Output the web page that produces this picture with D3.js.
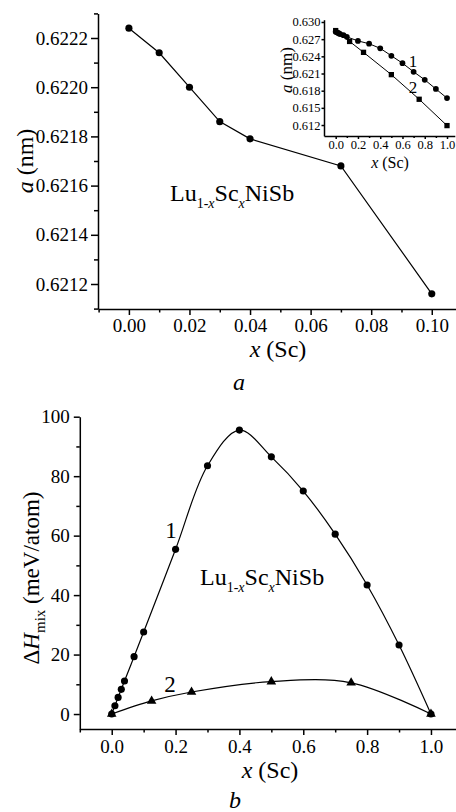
<!DOCTYPE html>
<html>
<head>
<meta charset="utf-8">
<script src="https://cdn.jsdelivr.net/npm/d3@7"></script>
<style>
  body { margin: 0; background: #fff; }
  .axis path, .axis line { stroke: #000; stroke-width: 1.5px; }
</style>
</head>
<body>
<svg width="456" height="812"></svg>
<script>
// panel a: lattice parameter of Lu1-xScxNiSb, small x
var xA = [0, 0.01, 0.02, 0.03, 0.04, 0.07, 0.10];
var aA = [0.62224, 0.62214, 0.62200, 0.62186, 0.62179, 0.62168, 0.62116];

// inset: full range, 1 = circles, 2 = squares
var xIn1 = [0, 0.01, 0.02, 0.03, 0.04, 0.07, 0.1, 0.2, 0.3, 0.4, 0.5, 0.6, 0.7, 0.8, 0.9, 1.0];
var aIn1 = [0.6283, 0.6282, 0.6281, 0.6280, 0.6279, 0.6277, 0.6274, 0.6267, 0.6262, 0.6254, 0.6241, 0.6228, 0.6213, 0.6199, 0.6183, 0.6167];
var xIn2 = [0, 0.125, 0.25, 0.5, 0.75, 1.0];
var aIn2 = [0.6285, 0.6266, 0.6247, 0.6208, 0.6165, 0.6119];

// panel b: mixing enthalpy
var xH1 = [0, 0.01, 0.02, 0.03, 0.04, 0.07, 0.1, 0.2, 0.3, 0.4, 0.5, 0.6, 0.7, 0.8, 0.9, 1.0];
var hH1 = [0, 2.8, 5.6, 8.3, 11.1, 19.3, 27.6, 55.4, 83.5, 95.5, 86.5, 75.0, 60.5, 43.4, 23.2, 0];
var xH2 = [0, 0.125, 0.25, 0.5, 0.75, 1.0];
var hH2 = [0, 4.4, 7.4, 10.9, 10.5, 0];

// ticks
var aTicks = [0.6212, 0.6214, 0.6216, 0.6218, 0.6220, 0.6222];
var aMinor = [0.6211, 0.6213, 0.6215, 0.6217, 0.6219, 0.6221, 0.6223];
var xATicks = [0, 0.02, 0.04, 0.06, 0.08, 0.10];
var xAMinor = [-0.01, 0.01, 0.03, 0.05, 0.07, 0.09];
var inYTicks = [0.612, 0.615, 0.618, 0.621, 0.624, 0.627, 0.630];
var inXTicks = [0, 0.2, 0.4, 0.6, 0.8, 1.0];
var inXMinor = [0.1, 0.3, 0.5, 0.7, 0.9];
var hTicks = [0, 20, 40, 60, 80, 100];
var hMinor = [10, 30, 50, 70, 90];
var xBTicks = [0, 0.2, 0.4, 0.6, 0.8, 1.0];
var xBMinor = [-0.1, 0.1, 0.3, 0.5, 0.7, 0.9];

var svg = d3.select("svg");

var zip = function(xs, ys) {
    return xs.map(function(x, i) { return {x: x, y: ys[i]}; });
}

// draws an axis with labelled major ticks and short minor ticks
var drawAxis = function(gen, scale, y0, x0, major, minor, fmt, big, small, pad, fs)
{
    var g = svg.append("g").attr("class", "axis")
        .attr("transform", "translate(" + x0 + "," + y0 + ")");
    g.call(gen(scale).tickValues(minor).tickSize(small).tickSizeOuter(0).tickFormat(""));
    var g2 = svg.append("g").attr("class", "axis")
        .attr("transform", "translate(" + x0 + "," + y0 + ")");
    g2.call(gen(scale).tickValues(major).tickSize(big).tickSizeOuter(0).tickPadding(pad).tickFormat(fmt));
    g2.attr("font-family", "Liberation Serif").attr("font-size", fs);
    g2.selectAll("text").attr("fill", "#000");
    g2.select(".domain").remove();
}

var drawPoints = function(pts, x, y, shape, size, curve, lw)
{
    var line = d3.line().x(function(d) { return x(d.x); }).y(function(d) { return y(d.y); }).curve(curve);
    svg.append("path").datum(pts)
        .attr("d", line)
        .attr("fill", "none").attr("stroke", "#000").attr("stroke-width", lw);
    svg.append("g").selectAll("path")
        .data(pts).enter()
        .append("path")
        .attr("transform", function(d) { return "translate(" + x(d.x) + "," + y(d.y) + ")"; })
        .attr("d", d3.symbol().type(shape).size(size))
        .attr("fill", "#000");
}

var txt = function(x, y, fs, rot)
{
    return svg.append("text")
        .attr("transform", "translate(" + x + "," + y + ")" + (rot ? " rotate(-90)" : ""))
        .attr("font-family", "Liberation Serif")
        .attr("font-size", fs);
}

var compound = function(x, y)
{
    var t = txt(x, y, 24, false);
    t.append("tspan").text("Lu");
    t.append("tspan").attr("dy", 7).attr("font-size", 14).text("1-");
    t.append("tspan").attr("font-size", 14).attr("font-style", "italic").text("x");
    t.append("tspan").attr("dy", -7).text("Sc");
    t.append("tspan").attr("dy", 7).attr("font-size", 14).attr("font-style", "italic").text("x");
    t.append("tspan").attr("dy", -7).text("NiSb");
}

var label = function(x, y, s, fs, italic)
{
    var t = txt(x, y, fs, false).attr("text-anchor", "middle").text(s);
    if (italic) t.attr("font-style", "italic");
    return t;
}

// axis title with italic symbol in front: "a (nm)", "x (Sc)"
var title = function(x, y, sym, rest, fs, rot)
{
    var t = txt(x, y, fs, rot).attr("text-anchor", "middle");
    t.append("tspan").attr("font-style", "italic").text(sym);
    t.append("tspan").text(rest);
}

// ---------- panel a ----------
var xa = d3.scaleLinear().domain([-0.0102, 0.108]).range([98, 456]);
var ya = d3.scaleLinear().domain([0.6211, 0.6223]).range([308.6, 13.4]);

drawAxis(d3.axisLeft, ya, 0, 98, aTicks, aMinor, d3.format(".4f"), 7, 4, 3, 19);
drawAxis(d3.axisBottom, xa, 309, 0, xATicks, xAMinor, d3.format(".2f"), 6, 3.5, 3.5, 19);
drawPoints(zip(xA, aA), xa, ya, d3.symbolCircle, 40, d3.curveLinear, 1.2);
compound(170, 201);
title(33, 161, "a", " (nm)", 24, true);
title(278, 357, "x", " (Sc)", 24, false);
label(239, 390, "a", 24, true);

// ---------- inset ----------
var xi = d3.scaleLinear().domain([-0.105, 1.07]).range([324, 454.8]);
var yi = d3.scaleLinear().domain([0.6101, 0.6304]).range([135.9, 19.7]);

drawAxis(d3.axisLeft, yi, 0, 324, inYTicks, [], d3.format(".3f"), 2.5, 0, 1, 12.5);
drawAxis(d3.axisBottom, xi, 136, 0, inXTicks, inXMinor, d3.format(".1f"), 3, 2, 1.5, 12.5);
drawPoints(zip(xIn2, aIn2), xi, yi, d3.symbolSquare, 28, d3.curveLinear, 1);
drawPoints(zip(xIn1, aIn1), xi, yi, d3.symbolCircle, 26, d3.curveLinear, 1);
label(413, 67, "1", 17, false);
label(413, 93, "2", 17, false);
title(292, 70, "a", " (nm)", 17, true);
title(390, 168, "x", " (Sc)", 16, false);

// ---------- panel b ----------
var xb = d3.scaleLinear().domain([-0.1, 1.08]).range([79.8, 456.5]);
var yb = d3.scaleLinear().domain([-5, 100]).range([728.9, 416.7]);

drawAxis(d3.axisLeft, yb, 0, 79.8, hTicks, hMinor, d3.format("d"), 6, 3.5, 4, 19);
drawAxis(d3.axisBottom, xb, 729, 0, xBTicks, xBMinor, d3.format(".1f"), 6, 3.5, 5, 19);
drawPoints(zip(xH2, hH2), xb, yb, d3.symbolTriangle, 40, d3.curveCatmullRom, 1.2);
drawPoints(zip(xH1, hH1), xb, yb, d3.symbolCircle, 40, d3.curveCatmullRom, 1.2);
compound(200, 585);
label(171, 538, "1", 23, false);
label(170, 692, "2", 23, false);

var th = txt(39, 578, 23, true).attr("text-anchor", "middle");
th.append("tspan").text("\u0394");
th.append("tspan").attr("font-style", "italic").text("H");
th.append("tspan").attr("dy", 6).attr("font-size", 15).text("mix");
th.append("tspan").attr("dy", -6).text(" (meV/atom)");
title(270, 778, "x", " (Sc)", 24, false);
label(235, 808, "b", 24, true);
</script>
</body>
</html>
